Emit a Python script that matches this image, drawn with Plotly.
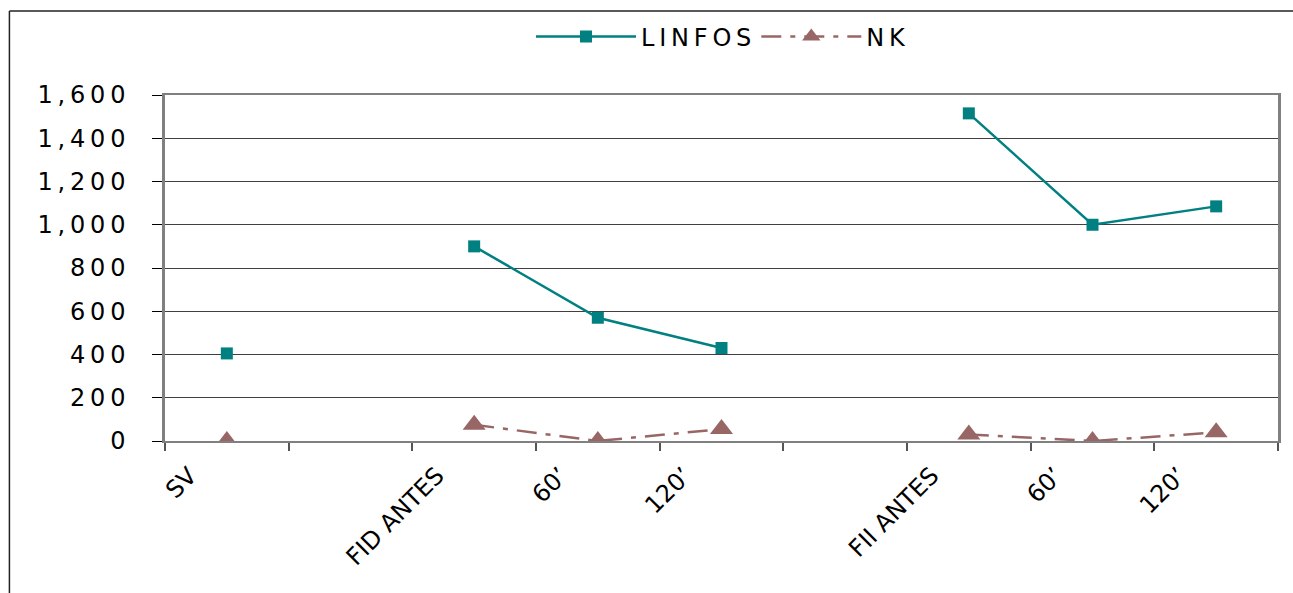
import plotly.graph_objects as go

# Time points (blank slots separate the three groups)
categories = ["SV", "", "FID ANTES", "60’", "120’", "", "FII ANTES", "60’", "120’"]
linfos = [405, None, 900, 570, 430, None, 1515, 1000, 1085]
nk = [0, None, 75, 0, 55, None, 30, 0, 40]
y_ticks = [0, 200, 400, 600, 800, 1000, 1200, 1400, 1600]

THIN = "\u2009"


def spaced(text):
    return THIN.join(text)


x_idx = list(range(len(categories)))
label_shift = 0.3  # rotated labels sit a little left of their category

fig = go.Figure()
fig.add_trace(go.Scatter(
    x=x_idx, y=linfos, name=spaced("LINFOS"), mode="lines+markers",
    line=dict(color="#008080", width=2.5),
    marker=dict(symbol="square", size=12, color="#008080"),
    connectgaps=False,
))
fig.add_trace(go.Scatter(
    x=x_idx, y=nk, name=spaced("NK"), mode="lines+markers",
    line=dict(color="#996666", width=2.5, dash="20px,9px,5px,9px"),
    marker=dict(symbol="triangle-up", size=20, color="#996666"),
    connectgaps=False,
))

tick_pos = [i - label_shift for i, c in enumerate(categories) if c]
tick_txt = [c for c in categories if c]

# outer chart frame: only its top and left edges fall inside the page
frame_left = (9 - 165) / 1116
frame_top = (441 - 11) / 346

fig.update_layout(
    width=1293, height=593,
    margin=dict(l=165, r=12, t=95, b=152),
    paper_bgcolor="white", plot_bgcolor="white",
    font=dict(family="DejaVu Sans, Verdana, sans-serif", color="black"),
    showlegend=True,
    legend=dict(
        orientation="h", x=0.5, xanchor="center", y=1.168, yanchor="middle",
        font=dict(size=24), bgcolor="rgba(0,0,0,0)", itemwidth=100,
    ),
    xaxis=dict(
        range=[-0.5, len(categories) - 0.5],
        tickmode="array", tickvals=tick_pos, ticktext=tick_txt,
        ticks="", tickangle=-45, tickfont=dict(size=24),
        ticklabelstandoff=9,
        showgrid=False, zeroline=False,
        showline=True, linecolor="#808080", linewidth=2, mirror=True,
        minor=dict(
            tickmode="array",
            tickvals=[i - 0.5 for i in range(len(categories) + 1)],
            ticks="outside", ticklen=8, tickcolor="#555555", tickwidth=1.5,
            showgrid=False,
        ),
    ),
    yaxis=dict(
        range=[0, 1600],
        tickmode="array", tickvals=y_ticks,
        ticktext=[spaced(f"{v:,}") for v in y_ticks],
        ticks="outside", ticklen=10, tickcolor="black", tickwidth=1,
        ticklabelstandoff=22, tickfont=dict(size=24),
        showgrid=True, gridcolor="#404040", gridwidth=1.2,
        zeroline=False,
        showline=True, linecolor="#808080", linewidth=2.5, mirror=True,
    ),
    shapes=[
        dict(type="line", xref="paper", yref="paper",
             x0=frame_left, x1=1.1, y0=frame_top, y1=frame_top,
             line=dict(color="#222222", width=1.5), layer="below"),
        dict(type="line", xref="paper", yref="paper",
             x0=frame_left, x1=frame_left, y0=-0.6, y1=frame_top,
             line=dict(color="#222222", width=1.5), layer="below"),
    ],
)

fig.write_html("out.html")
